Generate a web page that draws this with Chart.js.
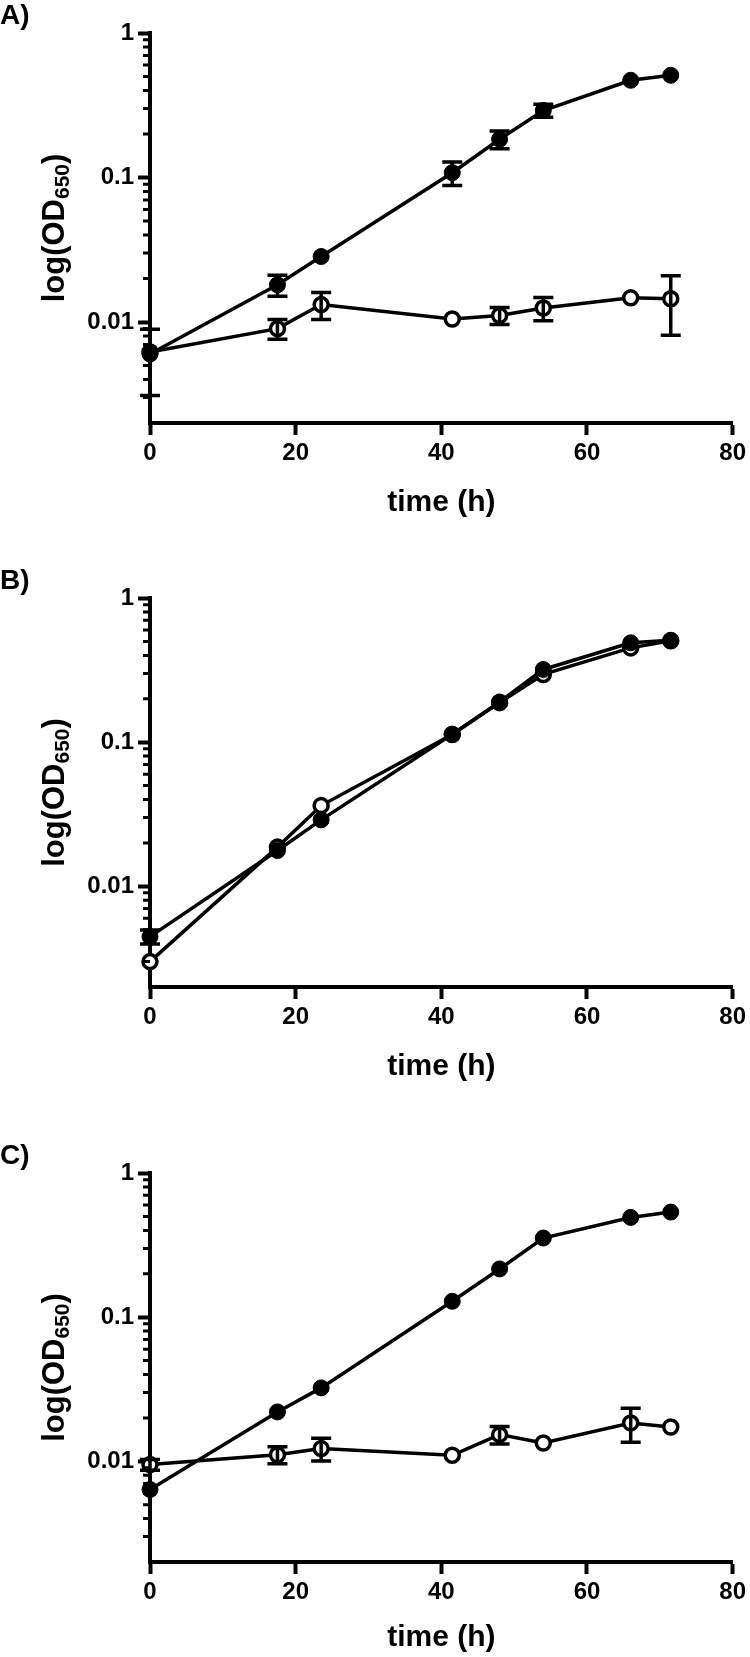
<!DOCTYPE html>
<html>
<head>
<meta charset="utf-8">
<script src="https://cdn.jsdelivr.net/npm/chart.js@4.4.1/dist/chart.umd.min.js"></script>
<style>
  html, body { margin: 0; padding: 0; background: #fff; overflow: hidden; }
  #page { position: relative; width: 750px; height: 1657px; }
  .panel { position: absolute; left: 0; width: 750px; }
</style>
</head>
<body>
<div id="page">
  <div class="panel" style="top:0px"><canvas id="chartA" width="750" height="540"></canvas></div>
  <div class="panel" style="top:565px"><canvas id="chartB" width="750" height="539"></canvas></div>
  <div class="panel" style="top:1140px"><canvas id="chartC" width="750" height="517"></canvas></div>
</div>
<script>
// sampling times (h)
const hours = [0, 17.5, 23.5, 41.5, 48, 54, 66, 71.5];

// panel A
const aFilled   = [0.0060, 0.0181, 0.0284, 0.108, 0.184, 0.291, 0.471, 0.510];
const aFilledSd = [0.0029, 0.0030, 0, 0.020, 0.026, 0.030, 0, 0];
const aOpen     = [0.0062, 0.0090, 0.0132, 0.0105, 0.0111, 0.0125, 0.0147, 0.0145];
const aOpenSd   = [0, 0.0014, 0.0028, 0, 0.0015, 0.0023, 0, 0.0064];

// panel B
const bFilled   = [0.00447, 0.0177, 0.0289, 0.1136, 0.190, 0.3195, 0.489, 0.509];
const bFilledSd = [0.0005, 0, 0, 0, 0, 0, 0, 0];
const bOpen     = [0.0030, 0.0187, 0.0363, 0.113, 0.188, 0.295, 0.451, 0.505];
const bOpenSd   = [0, 0, 0, 0, 0, 0, 0, 0];

// panel C
const cFilled   = [0.00637, 0.0220, 0.0323, 0.1288, 0.216, 0.354, 0.492, 0.536];
const cFilledSd = [0, 0, 0, 0, 0, 0, 0, 0];
const cOpen     = [0.00948, 0.0111, 0.01225, 0.0110, 0.0153, 0.0134, 0.01845, 0.0173];
const cOpenSd   = [0.0008, 0.0015, 0.0022, 0, 0.0021, 0, 0.0049, 0];

// axes
const xTicks = [0, 20, 40, 60, 80];
const yMajorTicks = [0.01, 0.1, 1];
const yTickLabels = ['0.01', '0.1', '1'];
const yMinorTicks = [0.003, 0.004, 0.005, 0.006, 0.007, 0.008, 0.009,
                     0.02, 0.03, 0.04, 0.05, 0.06, 0.07, 0.08, 0.09,
                     0.2, 0.3, 0.4, 0.5, 0.6, 0.7, 0.8, 0.9];

const FONT = "'Liberation Sans', Arial, sans-serif";
Chart.defaults.font.family = FONT;
Chart.defaults.color = '#000';

const errorBars = {
    id: 'errorBars',
    afterDatasetDraw(chart, args) {
        const ds = chart.data.datasets[args.index];
        if (!ds.sd) return;
        const xs = chart.scales.x, ys = chart.scales.y;
        const ctx = chart.ctx;
        ctx.save();
        ctx.strokeStyle = '#000';
        ctx.lineWidth = 3.5;
        ds.data.forEach((pt, i) => {
            const sd = ds.sd[i];
            if (!sd) return;
            const px = xs.getPixelForValue(pt.x);
            const top = ys.getPixelForValue(pt.y + sd);
            const bot = ys.getPixelForValue(Math.max(pt.y - sd, ys.min));
            ctx.beginPath();
            ctx.moveTo(px, top); ctx.lineTo(px, bot);
            ctx.moveTo(px - 10, top); ctx.lineTo(px + 10, top);
            ctx.moveTo(px - 10, bot); ctx.lineTo(px + 10, bot);
            ctx.stroke();
        });
        ctx.restore();
    }
};

// short minor ticks on the log axis + y title with subscript
const axisExtras = {
    id: 'axisExtras',
    afterDraw(chart) {
        const ctx = chart.ctx;
        const area = chart.chartArea;
        const ys = chart.scales.y;
        ctx.save();
        ctx.strokeStyle = '#000';
        ctx.lineWidth = 3;
        ctx.beginPath();
        ys.ticks.filter(t => !t.major).forEach(t => {
            const py = ys.getPixelForValue(t.value);
            ctx.moveTo(area.left - 7, py);
            ctx.lineTo(area.left, py);
        });
        ctx.stroke();

        const main = 'bold 31px ' + FONT;
        const sub = 'bold 21px ' + FONT;
        ctx.font = main;
        const w1 = ctx.measureText('log(OD').width;
        const w3 = ctx.measureText(')').width;
        ctx.font = sub;
        const w2 = ctx.measureText('650').width;
        const total = w1 + w2 + w3;
        ctx.translate(area.left - 86, (area.top + area.bottom) / 2);
        ctx.rotate(-Math.PI / 2);
        ctx.fillStyle = '#000';
        ctx.textBaseline = 'alphabetic';
        ctx.textAlign = 'left';
        const x0 = -total / 2;
        ctx.font = main;
        ctx.fillText('log(OD', x0, 0);
        ctx.font = sub;
        ctx.fillText('650', x0 + w1, 5);
        ctx.font = main;
        ctx.fillText(')', x0 + w1 + w2, 0);
        ctx.restore();
    }
};

function toPoints(values) {
    return values.map((v, i) => ({ x: hours[i], y: v }));
}

function makePanel(canvasId, label, filled, filledSd, open, openSd, xBoxHeight, titlePadBottom) {
    const ctx = document.getElementById(canvasId).getContext('2d');
    return new Chart(ctx, {
        type: 'line',
        data: {
            // first dataset is painted on top
            datasets: [
                {
                    data: toPoints(filled),
                    sd: filledSd,
                    borderColor: '#000',
                    borderWidth: 3.5,
                    pointRadius: 8,
                    pointBorderWidth: 1,
                    pointBackgroundColor: '#000',
                    pointBorderColor: '#000',
                    tension: 0,
                    clip: false
                },
                {
                    data: toPoints(open),
                    sd: openSd,
                    borderColor: '#000',
                    borderWidth: 3.5,
                    pointRadius: 7,
                    pointBorderWidth: 3.5,
                    pointBackgroundColor: '#fff',
                    pointBorderColor: '#000',
                    tension: 0,
                    clip: false
                }
            ]
        },
        options: {
            responsive: false,
            animation: false,
            events: [],
            layout: { padding: { left: 0, right: 14, top: 0, bottom: 0 } },
            scales: {
                x: {
                    type: 'linear',
                    min: 0,
                    max: 80,
                    afterBuildTicks: scale => { scale.ticks = xTicks.map(v => ({ value: v })); },
                    afterFit: scale => { scale.height = xBoxHeight; },
                    border: { display: true, width: 4, color: '#000' },
                    grid: { drawOnChartArea: false, tickLength: 12, tickWidth: 4, tickColor: '#000' },
                    ticks: { font: { size: 24, weight: 'bold' }, padding: 4, maxRotation: 0, autoSkip: false },
                    title: {
                        display: true,
                        text: 'time (h)',
                        font: { size: 30, weight: 'bold', lineHeight: 1.2 },
                        padding: { top: 0, bottom: titlePadBottom }
                    }
                },
                y: {
                    type: 'logarithmic',
                    min: 0.002,
                    max: 1,
                    afterBuildTicks: scale => {
                        scale.ticks = yMinorTicks.map(v => ({ value: v, major: false }))
                            .concat(yMajorTicks.map(v => ({ value: v, major: true })))
                            .sort((a, b) => a.value - b.value);
                    },
                    afterFit: scale => { scale.width = 150; },
                    border: { display: true, width: 4, color: '#000' },
                    grid: {
                        drawOnChartArea: false,
                        tickLength: 12,
                        tickWidth: 4,
                        tickColor: c => (c.tick && c.tick.major) ? '#000' : 'rgba(0,0,0,0)'
                    },
                    ticks: {
                        font: { size: 24, weight: 'bold' },
                        padding: 4,
                        autoSkip: false,
                        callback: value => {
                            const i = yMajorTicks.indexOf(value);
                            return i >= 0 ? yTickLabels[i] : '';
                        }
                    }
                }
            },
            plugins: {
                legend: { display: false },
                tooltip: { enabled: false },
                title: {
                    display: true,
                    text: label,
                    align: 'start',
                    color: '#000',
                    font: { size: 28, weight: 'bold', lineHeight: 1.18 },
                    padding: 0
                }
            }
        },
        plugins: [errorBars, axisExtras]
    });
}

makePanel('chartA', 'A)', aFilled, aFilledSd, aOpen, aOpenSd, 117, 19);
makePanel('chartB', 'B)', bFilled, bFilledSd, bOpen, bOpenSd, 117, 19);
makePanel('chartC', 'C)', cFilled, cFilledSd, cOpen, cOpenSd, 95, 1);
</script>
</body>
</html>
